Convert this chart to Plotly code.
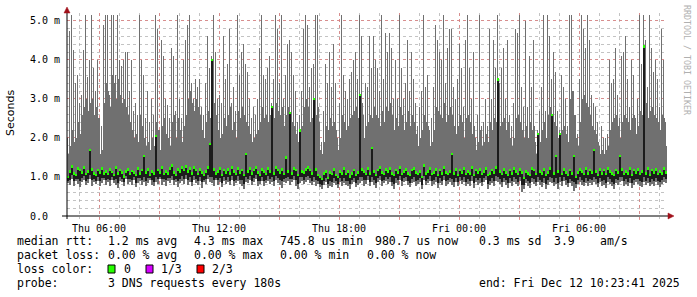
import plotly.graph_objects as go
import pandas as pd
import numpy as np

# ---------------- data (values in ms) ----------------
start = pd.Timestamp("2025-12-11 04:24:00")
end = pd.Timestamp("2025-12-12 10:24:00")
step_min = 6          # one reading pair per 6 minutes (peak pixel + valley pixel, 3 min each)

# peak (upper smoke edge) per 6-min column
hi_ms = [
    2.0, 4.75, 5.15, 4.25, 3.4, 3.6, 2.9, 3.1, 4.25, 5.15, 3.55, 4.0, 5.15, 3.8, 3.2, 4.0, 2.5, 2.3, 4.9, 5.15,
    5.15, 3.1, 5.15, 5.15, 3.6, 5.15, 4.0, 3.85, 4.0, 4.2, 4.2, 3.2, 4.0, 2.7, 2.9, 2.6, 5.15, 4.0, 3.6, 2.5,
    3.2, 2.4, 3.0, 2.6, 5.15, 4.8, 2.2, 4.5, 4.1, 3.0, 2.85, 2.5, 4.3, 4.1, 2.7, 5.15, 3.0, 2.5, 4.0, 4.5,
    4.9, 5.15, 3.4, 3.0, 3.5, 3.3, 3.5, 2.8, 2.6, 3.4, 4.6, 3.8, 4.1, 5.15, 4.2, 3.0, 3.1, 2.9, 4.6, 3.5,
    3.9, 4.8, 2.9, 3.3, 2.7, 5.15, 3.6, 4.2, 4.4, 3.9, 3.7, 3.0, 2.5, 2.8, 2.6, 3.0, 4.3, 5.15, 3.6, 3.5,
    3.8, 4.1, 2.9, 3.5, 5.15, 4.8, 3.4, 5.15, 3.0, 3.6, 4.4, 4.5, 4.2, 3.6, 3.2, 2.4, 2.6, 3.2, 4.8, 5.15,
    4.9, 3.3, 3.8, 3.9, 5.15, 5.15, 2.4, 1.9, 2.7, 3.9, 3.4, 4.2, 3.3, 4.4, 3.4, 2.0, 2.9, 5.15, 3.6, 3.2,
    3.0, 3.5, 3.7, 4.0, 4.2, 3.5, 5.15, 4.6, 2.6, 3.4, 3.3, 4.6, 3.8, 4.6, 4.0, 3.8, 3.2, 5.15, 3.5, 4.7,
    4.2, 4.7, 4.3, 3.0, 4.0, 3.0, 5.15, 3.8, 3.0, 3.4, 4.5, 3.2, 4.2, 3.5, 2.9, 2.3, 2.8, 3.2, 5.15, 3.3,
    3.6, 2.2, 2.5, 3.3, 4.9, 4.5, 4.2, 4.0, 5.15, 3.4, 4.3, 4.8, 4.8, 3.3, 3.0, 3.5, 4.4, 3.8, 2.8, 4.5,
    5.15, 3.8, 3.0, 4.2, 2.0, 2.6, 5.15, 2.3, 2.4, 3.0, 2.3, 4.8, 3.0, 4.5, 3.8, 5.15, 3.4, 3.8, 4.3, 3.0,
    4.5, 2.6, 2.3, 2.9, 4.8, 4.7, 5.15, 3.3, 2.8, 5.0, 2.8, 4.1, 3.3, 4.5, 1.9, 2.2, 2.7, 3.3, 5.15, 2.7,
    5.15, 4.6, 3.5, 4.2, 3.7, 2.7, 2.2, 3.6, 3.3, 3.0, 2.3, 5.15, 5.15, 3.2, 2.6, 2.1, 3.5, 5.15, 4.8, 4.3,
    5.15, 4.5, 3.1, 2.9, 2.8, 2.4, 1.8, 2.3, 2.0, 2.0, 2.1, 4.0, 3.4, 3.5, 4.3, 3.1, 2.5, 4.1, 4.2, 4.6,
    3.5, 2.8, 4.0, 3.6, 2.5, 3.0, 5.15, 3.9, 5.15, 4.5, 3.3, 5.15, 4.3, 3.7, 4.0, 3.5, 2.8, 4.8, 4.0, 2.4,
]

# valley (upper smoke edge between the peaks) per 6-min column
valley_ms = [
    1.6, 1.8, 2.2, 1.9, 2.0, 2.4, 2.1, 2.6, 2.8, 3.0, 2.7, 2.9, 3.0, 2.6, 2.8, 2.5, 1.6, 1.7, 2.9, 3.4,
    3.2, 2.8, 3.6, 3.4, 3.0, 3.5, 3.1, 2.9, 3.0, 2.8, 2.6, 2.4, 2.2, 2.0, 2.1, 1.9, 2.6, 2.3, 2.0, 1.8,
    1.9, 1.7, 2.0, 1.8, 2.4, 2.2, 1.7, 2.3, 2.5, 2.1, 2.0, 1.8, 2.4, 2.6, 2.0, 2.5, 2.2, 1.9, 2.3, 2.6,
    3.0, 3.2, 2.9, 2.7, 3.0, 2.8, 2.6, 2.2, 2.0, 2.4, 2.7, 2.5, 2.2, 2.9, 2.6, 2.2, 2.0, 2.1, 2.5, 2.3,
    2.6, 2.8, 2.2, 2.4, 2.0, 2.7, 2.5, 2.8, 2.6, 2.4, 2.3, 2.1, 1.9, 2.0, 2.1, 2.2, 2.4, 2.8, 2.5, 2.6,
    2.4, 2.6, 2.2, 2.5, 2.9, 2.7, 2.6, 2.8, 2.3, 2.6, 2.8, 2.5, 2.4, 2.3, 2.1, 1.9, 2.0, 2.3, 2.8, 3.0,
    2.8, 2.4, 2.5, 2.2, 2.6, 2.8, 1.7, 1.6, 1.9, 2.3, 2.2, 2.5, 2.3, 2.4, 2.2, 1.7, 2.0, 2.6, 2.4, 2.2,
    2.3, 2.5, 2.6, 2.7, 2.8, 2.5, 2.7, 2.9, 2.0, 2.3, 2.4, 2.6, 2.5, 2.8, 2.6, 2.5, 2.3, 2.7, 2.4, 2.8,
    2.7, 2.9, 2.6, 2.2, 2.5, 2.3, 2.8, 2.6, 2.2, 2.4, 2.7, 2.3, 2.6, 2.4, 2.1, 1.8, 2.0, 2.2, 2.6, 2.4,
    2.3, 1.8, 1.9, 2.2, 2.8, 2.7, 2.6, 2.5, 2.9, 2.4, 2.6, 2.8, 2.6, 2.3, 2.1, 2.3, 2.6, 2.4, 2.0, 2.5,
    2.6, 2.4, 2.1, 2.3, 1.7, 1.9, 2.2, 1.8, 1.9, 2.1, 1.9, 2.4, 2.2, 2.5, 2.4, 2.6, 2.3, 2.4, 2.5, 2.2,
    2.4, 2.0, 1.8, 2.0, 2.5, 2.6, 2.4, 2.2, 2.0, 2.3, 2.0, 2.4, 2.2, 2.3, 1.6, 1.7, 1.9, 2.2, 2.4, 2.0,
    2.6, 2.8, 2.5, 2.4, 2.3, 2.0, 1.8, 2.2, 2.3, 2.1, 1.9, 3.0, 3.2, 2.6, 2.0, 1.8, 2.4, 3.0, 3.1, 2.9,
    2.8, 2.6, 2.3, 2.2, 2.1, 1.9, 1.6, 1.7, 1.6, 1.7, 1.8, 2.2, 2.4, 2.5, 2.6, 2.3, 2.0, 2.4, 2.6, 2.5,
    2.4, 2.2, 2.5, 2.6, 2.1, 2.3, 2.7, 2.6, 2.8, 2.9, 2.5, 2.7, 2.8, 2.6, 2.5, 2.4, 2.2, 2.6, 2.5, 1.8,
]

med_ms = [
    1.00, 1.15, 1.28, 1.10, 1.05, 1.22, 1.18, 1.12, 1.25, 1.08, 1.15, 1.70, 1.20, 1.10, 1.05, 1.18, 1.12, 1.22, 1.10, 1.15,
    1.08, 1.20, 1.14, 1.05, 1.25, 1.10, 1.18, 1.12, 1.02, 1.15, 1.20, 1.08, 1.16, 1.12, 1.05, 1.22, 1.10, 1.18, 1.55, 1.12,
    1.20, 1.06, 1.15, 1.10, 2.05, 1.18, 1.12, 1.25, 1.08, 1.15, 1.10, 1.22, 1.30, 1.12, 1.05, 1.20, 1.15, 1.25, 1.18, 1.28,
    1.15, 1.22, 1.10, 1.25, 1.18, 1.08, 1.20, 1.12, 1.05, 1.15, 1.25, 1.85, 4.00, 1.20, 1.10, 1.15, 1.22, 1.05, 1.18, 1.12,
    1.20, 1.10, 1.25, 1.15, 1.08, 1.22, 1.12, 1.18, 1.05, 1.60, 1.15, 1.22, 1.10, 1.18, 1.25, 1.12, 1.05, 1.20, 1.15, 1.08,
    1.22, 1.15, 2.80, 1.10, 1.25, 1.18, 1.12, 1.20, 1.08, 1.50, 1.15, 2.65, 1.10, 1.22, 1.18, 1.05, 2.20, 1.15, 1.12, 1.20,
    1.25, 1.18, 1.10, 3.00, 1.20, 1.05, 1.00, 0.95, 1.10, 1.15, 0.98, 1.12, 1.08, 1.20, 1.05, 1.00, 1.15, 1.10, 1.22, 1.08,
    1.15, 1.02, 1.10, 1.18, 1.05, 1.12, 3.10, 1.20, 1.15, 1.08, 1.22, 1.10, 1.75, 1.15, 1.05, 1.18, 1.25, 1.12, 1.08, 1.20,
    1.15, 1.22, 1.10, 1.05, 1.18, 1.12, 1.25, 1.08, 1.15, 1.20, 1.10, 1.05, 1.18, 1.22, 1.12, 1.08, 1.15, 1.00, 1.30, 1.10,
    1.15, 1.22, 1.08, 1.12, 1.20, 1.05, 1.18, 1.10, 1.25, 1.12, 1.08, 1.15, 1.60, 1.10, 1.20, 1.05, 1.18, 1.12, 1.22, 1.08,
    1.15, 1.10, 1.25, 1.05, 1.18, 1.12, 1.20, 1.08, 1.15, 1.22, 1.05, 1.10, 1.18, 1.12, 1.25, 3.50, 1.15, 1.08, 1.20, 1.12,
    1.05, 1.18, 1.10, 1.22, 1.15, 1.08, 1.20, 1.12, 0.98, 1.15, 1.10, 1.05, 1.22, 1.18, 1.08, 2.10, 1.15, 1.10, 1.20, 1.05,
    1.12, 1.22, 2.60, 1.10, 1.55, 1.15, 2.10, 1.08, 1.20, 1.12, 1.05, 1.18, 1.10, 1.55, 1.00, 1.12, 1.20, 1.15, 1.08, 1.22,
    1.10, 1.18, 1.12, 1.70, 1.15, 1.05, 1.20, 1.10, 1.18, 1.08, 1.22, 1.15, 1.10, 1.05, 1.18, 1.12, 1.55, 1.20, 1.08, 1.15,
    1.10, 1.22, 1.05, 1.18, 1.12, 1.20, 1.08, 1.15, 4.35, 1.10, 1.22, 1.05, 1.18, 1.12, 1.20, 1.08, 1.15, 1.10, 1.22, 1.12,
]

low_ms = [
    0.85, 0.80, 0.95, 0.78, 0.90, 0.82, 0.75, 0.88, 0.92, 0.80, 0.85, 0.95, 0.78, 0.88, 0.82, 0.90, 0.76, 0.85, 0.92, 0.80,
    0.88, 0.78, 0.92, 0.85, 0.80, 0.72, 0.90, 0.86, 0.78, 0.95, 0.82, 0.88, 0.80, 0.92, 0.75, 0.85, 0.90, 0.80, 0.88, 0.78,
    0.85, 0.92, 0.80, 0.76, 0.88, 0.82, 0.95, 0.80, 0.86, 0.78, 0.90, 0.84, 0.92, 0.80, 0.88, 0.75, 0.85, 0.90, 0.82, 0.95,
    0.80, 0.88, 0.76, 0.92, 0.84, 0.80, 0.90, 0.72, 0.86, 0.82, 0.95, 0.88, 0.85, 0.78, 0.92, 0.80, 0.86, 0.74, 0.90, 0.82,
    0.88, 0.80, 0.92, 0.76, 0.85, 0.90, 0.82, 0.78, 0.70, 0.88, 0.84, 0.92, 0.80, 0.86, 0.95, 0.78, 0.82, 0.90, 0.76, 0.85,
    0.90, 0.82, 0.88, 0.78, 0.92, 0.85, 0.80, 0.72, 0.88, 0.84, 0.90, 0.80, 0.86, 0.92, 0.78, 0.68, 0.85, 0.90, 0.82, 0.88,
    0.92, 0.85, 0.80, 0.88, 0.76, 0.82, 0.74, 0.70, 0.80, 0.86, 0.72, 0.78, 0.75, 0.84, 0.80, 0.72, 0.88, 0.78, 0.85, 0.80,
    0.76, 0.70, 0.82, 0.88, 0.74, 0.80, 0.85, 0.90, 0.78, 0.82, 0.92, 0.76, 0.86, 0.80, 0.72, 0.88, 0.92, 0.78, 0.84, 0.90,
    0.82, 0.88, 0.76, 0.70, 0.85, 0.80, 0.92, 0.78, 0.86, 0.90, 0.80, 0.74, 0.84, 0.88, 0.78, 0.82, 0.86, 0.70, 0.92, 0.80,
    0.84, 0.90, 0.78, 0.82, 0.88, 0.72, 0.85, 0.80, 0.92, 0.76, 0.82, 0.88, 0.80, 0.74, 0.86, 0.78, 0.90, 0.82, 0.88, 0.76,
    0.82, 0.78, 0.90, 0.72, 0.86, 0.80, 0.84, 0.76, 0.88, 0.92, 0.70, 0.80, 0.85, 0.78, 0.90, 0.88, 0.82, 0.75, 0.86, 0.80,
    0.72, 0.85, 0.78, 0.88, 0.82, 0.76, 0.90, 0.62, 0.70, 0.84, 0.78, 0.72, 0.86, 0.82, 0.76, 0.88, 0.80, 0.74, 0.85, 0.70,
    0.80, 0.88, 0.84, 0.76, 0.82, 0.70, 0.86, 0.78, 0.90, 0.80, 0.74, 0.84, 0.78, 0.65, 0.72, 0.82, 0.88, 0.80, 0.76, 0.85,
    0.78, 0.84, 0.80, 0.88, 0.82, 0.74, 0.86, 0.78, 0.80, 0.72, 0.88, 0.82, 0.76, 0.70, 0.84, 0.80, 0.86, 0.90, 0.78, 0.82,
    0.76, 0.84, 0.72, 0.80, 0.86, 0.82, 0.78, 0.74, 0.88, 0.80, 0.84, 0.76, 0.82, 0.78, 0.86, 0.80, 0.74, 0.82, 0.88, 0.84,
]

x_tick_times = ["2025-12-11 06:00", "2025-12-11 09:00", "2025-12-11 12:00", "2025-12-11 15:00",
                "2025-12-11 18:00", "2025-12-11 21:00", "2025-12-12 00:00", "2025-12-12 03:00",
                "2025-12-12 06:00", "2025-12-12 09:00"]
x_tick_text = ["Thu 06:00", "", "Thu 12:00", "", "Thu 18:00", "", "Fri 00:00", "", "Fri 06:00", ""]
y_tick_vals = [0, 1, 2, 3, 4, 5]
y_tick_text = ["0.0\u00a0\u00a0", "1.0 m", "2.0 m", "3.0 m", "4.0 m", "5.0 m"]

legend_lines = [
    (241, [(16, "median rtt:"), (107, "1.2 ms avg"), (193, "4.3 ms max"), (279, "745.8 us min"),
           (374, "980.7 us now"), (478, "0.3 ms sd"), (553, "3.9"), (599, "am/s")]),
    (255, [(16, "packet loss:"), (107, "0.00 % avg"), (193, "0.00 % max"), (279, "0.00 % min"),
           (366, "0.00 % now")]),
    (269, [(16, "loss color:"), (123, "0"), (160, "1/3"), (211, "2/3")]),
    (283, [(16, "probe:"), (107, "3 DNS requests every 180s"), (478, "end: Fri Dec 12 10:23:41 2025")]),
]
loss_boxes = [(108, "#26ff00"), (146, "#d600ff"), (197, "#ff0000")]

# ---------------- figure ----------------
W, H = 697, 297
L, R, T, B = 67, 667, 13, 216

def px(x):
    return (x - L) / (R - L)

def py(y):
    return (B - y) / (B - T)

n = len(hi_ms)
hi2 = np.array(hi_ms)
val2 = np.minimum(np.array(valley_ms), hi2)
top = np.empty(2 * n)
top[0::2] = hi2
top[1::2] = val2
med = np.repeat(np.array(med_ms), 2)
low = np.repeat(np.array(low_ms), 2)
m = 2 * n
half = step_min / 2
times = [(start + pd.Timedelta(minutes=half * (i + 0.5))).strftime("%Y-%m-%d %H:%M:%S") for i in range(m)]
bw = half * 60 * 1000
dark_lo = low + 0.35 * (np.minimum(med, 1.25) - low)

SMOKE = "#707070"
DARK = "#1c1c1c"
GREEN = "#26ff00"
MONO = "DejaVu Sans Mono"

fig = go.Figure()
fig.add_trace(go.Bar(x=times, y=top - low, base=low, width=bw, marker=dict(color=SMOKE, line=dict(width=0)),
                     hoverinfo="skip"))
fig.add_trace(go.Bar(x=times, y=med - dark_lo, base=dark_lo, width=bw, marker=dict(color=DARK, line=dict(width=0)),
                     hoverinfo="skip"))
fig.add_trace(go.Bar(x=times, y=[0.05] * m, base=med - 0.025, width=bw, marker=dict(color=GREEN, line=dict(width=0)),
                     hoverinfo="skip"))

RED_GRID = "rgba(225,120,120,0.7)"
GRAY_GRID = "rgba(170,170,170,0.7)"

fig.update_layout(
    width=W, height=H, autosize=False,
    margin=dict(l=L, r=W - R, t=T, b=H - B, pad=0),
    paper_bgcolor="white", plot_bgcolor="white",
    barmode="overlay", bargap=0, showlegend=False,
    xaxis=dict(
        type="date", range=[start.strftime("%Y-%m-%d %H:%M:%S"), end.strftime("%Y-%m-%d %H:%M:%S")],
        tickmode="array", tickvals=x_tick_times, ticktext=x_tick_text,
        tickfont=dict(family=MONO, size=10, color="black"),
        ticks="outside", ticklen=3, tickcolor=RED_GRID,
        showgrid=True, gridcolor=RED_GRID, griddash="dot", gridwidth=1,
        minor=dict(dtick=3600000, tick0="2025-12-11 00:00", showgrid=True, gridcolor=GRAY_GRID,
                   griddash="dot", gridwidth=1, ticks="outside", ticklen=2, tickcolor=GRAY_GRID),
        zeroline=False, showline=False, fixedrange=True,
    ),
    yaxis=dict(
        range=[0, 5.2], tickmode="array", tickvals=y_tick_vals, ticktext=y_tick_text,
        tickfont=dict(family=MONO, size=10, color="black"),
        ticks="outside", ticklen=4, tickcolor="rgba(0,0,0,0)",
        showgrid=True, gridcolor=RED_GRID, griddash="dot", gridwidth=1,
        minor=dict(dtick=0.2, tick0=0, showgrid=True, gridcolor=GRAY_GRID, griddash="dot", gridwidth=1),
        zeroline=False, showline=False, fixedrange=True,
    ),
)

shapes = []
shapes.append(dict(type="line", xref="paper", yref="paper", x0=px(62), x1=px(670), y0=py(216), y1=py(216),
                   line=dict(color="black", width=1)))
shapes.append(dict(type="line", xref="paper", yref="paper", x0=px(67), x1=px(67), y0=py(219), y1=py(11),
                   line=dict(color="black", width=1)))
shapes.append(dict(type="path", xref="paper", yref="paper",
                   path=f"M {px(668)} {py(213)} L {px(674)} {py(216)} L {px(668)} {py(219)} Z",
                   fillcolor="#a0101a", line=dict(color="#a0101a", width=0.5)))
shapes.append(dict(type="path", xref="paper", yref="paper",
                   path=f"M {px(64)} {py(13)} L {px(67)} {py(7)} L {px(70)} {py(13)} Z",
                   fillcolor="#a0101a", line=dict(color="#a0101a", width=0.5)))
for bx, col in loss_boxes:
    shapes.append(dict(type="rect", xref="paper", yref="paper", x0=px(bx), x1=px(bx + 7),
                       y0=py(273), y1=py(265), fillcolor=col, line=dict(color="black", width=1)))
fig.update_layout(shapes=shapes)

ann = []
ann.append(dict(text="Seconds", xref="paper", yref="paper", x=px(11), y=py(113), textangle=-90,
                showarrow=False, xanchor="center", yanchor="middle",
                font=dict(family="DejaVu Sans", size=11, color="black")))
ann.append(dict(text="RRDTOOL / TOBI OETIKER", xref="paper", yref="paper", x=px(687), y=py(60), textangle=90,
                showarrow=False, xanchor="center", yanchor="middle",
                font=dict(family=MONO, size=8.3, color="#b0b0b0")))
for yy, segs in legend_lines:
    for xx, txt in segs:
        ann.append(dict(text=txt.replace(" ", "\u00a0"), xref="paper", yref="paper", x=px(xx - 1), y=py(yy),
                        showarrow=False, xanchor="left", yanchor="middle",
                        font=dict(family=MONO, size=11.5, color="black")))
fig.update_layout(annotations=ann)

fig.write_html("out.html")
